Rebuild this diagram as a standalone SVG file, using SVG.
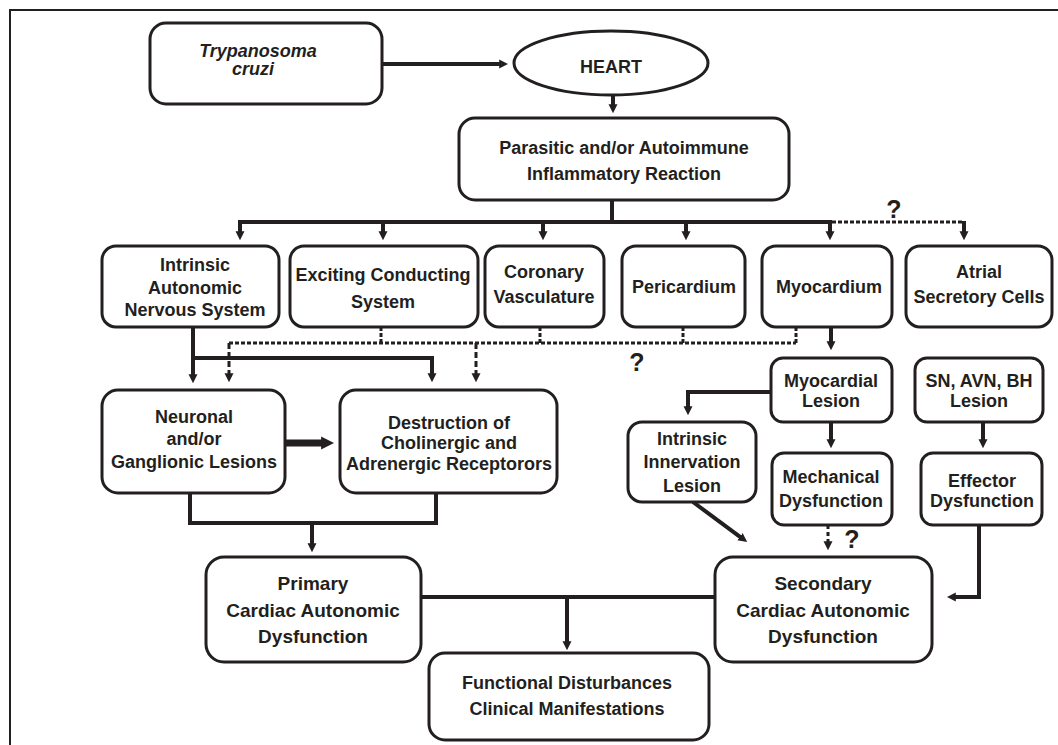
<svg xmlns="http://www.w3.org/2000/svg" width="1058" height="745" viewBox="0 0 1058 745">
<defs>
<marker id="ah" viewBox="0 0 10 10" refX="2" refY="5" markerWidth="9" markerHeight="13" markerUnits="userSpaceOnUse" orient="auto"><path d="M0,0 L10,5 L0,10 z" fill="#231f20"/></marker>
<marker id="ahb" viewBox="0 0 10 10" refX="3" refY="5" markerWidth="13" markerHeight="17" markerUnits="userSpaceOnUse" orient="auto"><path d="M0,0 L10,5 L0,10 z" fill="#231f20"/></marker>
</defs>
<style>
.box{fill:#fff;stroke:#231f20;stroke-width:3}
.t{font-family:"Liberation Sans",Arial,sans-serif;font-weight:bold;font-size:18px;fill:#231f20;text-anchor:middle}
.big{font-size:19px}
.q{font-size:25px}
.c{fill:none;stroke:#231f20;stroke-width:4}
.a{marker-end:url(#ah)}
.d{fill:none;stroke:#231f20;stroke-width:3;stroke-dasharray:4 2}
.dd{fill:none;stroke:#231f20;stroke-width:3;stroke-dasharray:6 3}
</style>
<rect x="10" y="10" width="1070" height="760" fill="#fff" stroke="#231f20" stroke-width="2"/>

<g id="connectors">
<path class="c a" d="M382,64 H501"/>
<path class="c a" d="M613,95 V106"/>
<path class="c" d="M612,200 V222 M238,222 H832"/>
<path class="c a" d="M240,220 V233"/>
<path class="c a" d="M383,220 V233"/>
<path class="c a" d="M543,220 V233"/>
<path class="c a" d="M686,220 V233"/>
<path class="c a" d="M830,220 V233"/>
<path class="d" d="M832,222 H964"/>
<path class="c a" d="M964,221 V233"/>
<path class="c a" d="M193,327 V376"/>
<path class="c a" d="M193,358 H432 V375"/>
<path class="d" d="M229,343 H796 M381,327 V343 M540,327 V343 M683,327 V343 M796,327 V343"/>
<path class="dd a" d="M229,343 V375"/>
<path class="dd a" d="M476,343 V375"/>
<path fill="none" stroke="#231f20" stroke-width="7" marker-end="url(#ahb)" d="M285,443 H325"/>
<path class="c" d="M190,493 V523 H436 V493"/>
<path class="c a" d="M312,523 V545"/>
<path class="c" d="M421,597 H715"/>
<path class="c a" d="M567,597 V643"/>
<path class="c a" d="M831,327 V343"/>
<path class="c a" d="M771,392 H688 V408"/>
<path class="c a" d="M831,422 V441"/>
<path class="c a" d="M983,422 V441"/>
<path class="dd a" d="M828,525 V543" style="stroke-dasharray:4 3"/>
<path class="c a" d="M693,502 L741.4,537.8"/>
<path class="c a" d="M979,525 V597 H954"/>
<text class="t q" x="894" y="218">?</text>
<text class="t q" x="637" y="371">?</text>
<text class="t q" x="852" y="548">?</text>
</g>

<g id="trypanosoma">
<rect class="box" x="150" y="23" width="232" height="81" rx="16"/>
<text class="t" x="258" y="57" font-style="italic">Trypanosoma</text>
<text class="t" x="253" y="75" font-style="italic">cruzi</text>
</g>
<g id="heart">
<ellipse class="box" cx="611" cy="63" rx="97" ry="32"/>
<text class="t" x="611" y="73">HEART</text>
</g>
<g id="reaction">
<rect class="box" x="459" y="118" width="330" height="82" rx="16"/>
<text class="t" x="624" y="154" font-size="20">Parasitic and/or Autoimmune</text>
<text class="t" x="624" y="180" font-size="20">Inflammatory Reaction</text>
</g>
<g id="intrinsic-ans">
<rect class="box" x="102" y="246" width="177" height="81" rx="14"/>
<text class="t" x="195" y="271">Intrinsic</text>
<text class="t" x="195" y="294">Autonomic</text>
<text class="t" x="195" y="316">Nervous System</text>
</g>
<g id="exciting">
<rect class="box" x="290" y="246" width="188" height="81" rx="14"/>
<text class="t" x="383" y="281">Exciting Conducting</text>
<text class="t" x="383" y="308">System</text>
</g>
<g id="coronary">
<rect class="box" x="485" y="246" width="119" height="81" rx="14"/>
<text class="t" x="544" y="278">Coronary</text>
<text class="t" x="544" y="303">Vasculature</text>
</g>
<g id="pericardium">
<rect class="box" x="622" y="246" width="123" height="81" rx="14"/>
<text class="t" x="684" y="293">Pericardium</text>
</g>
<g id="myocardium">
<rect class="box" x="762" y="246" width="130" height="81" rx="14"/>
<text class="t" x="829" y="293">Myocardium</text>
</g>
<g id="atrial">
<rect class="box" x="906" y="246" width="146" height="81" rx="14"/>
<text class="t" x="979" y="278">Atrial</text>
<text class="t" x="979" y="303">Secretory Cells</text>
</g>
<g id="neuronal">
<rect class="box" x="102" y="390" width="183" height="103" rx="16"/>
<text class="t" x="194" y="423">Neuronal</text>
<text class="t" x="194" y="445">and/or</text>
<text class="t" x="194" y="468">Ganglionic Lesions</text>
</g>
<g id="destruction">
<rect class="box" x="340" y="390" width="217" height="103" rx="16"/>
<text class="t" x="449" y="429">Destruction of</text>
<text class="t" x="449" y="449">Cholinergic and</text>
<text class="t" x="449" y="470">Adrenergic Receptorors</text>
</g>
<g id="myocardial-lesion">
<rect class="box" x="771" y="358" width="121" height="64" rx="12"/>
<text class="t" x="831" y="387">Myocardial</text>
<text class="t" x="831" y="407">Lesion</text>
</g>
<g id="sn-lesion">
<rect class="box" x="915" y="358" width="128" height="64" rx="12"/>
<text class="t" x="979" y="387">SN, AVN, BH</text>
<text class="t" x="979" y="407">Lesion</text>
</g>
<g id="innervation">
<rect class="box" x="628" y="422" width="128" height="80" rx="14"/>
<text class="t" x="692" y="445">Intrinsic</text>
<text class="t" x="692" y="468">Innervation</text>
<text class="t" x="692" y="492">Lesion</text>
</g>
<g id="mechanical">
<rect class="box" x="772" y="453" width="120" height="72" rx="12"/>
<text class="t" x="831" y="483">Mechanical</text>
<text class="t" x="831" y="507">Dysfunction</text>
</g>
<g id="effector">
<rect class="box" x="921" y="453" width="121" height="72" rx="12"/>
<text class="t" x="982" y="487">Effector</text>
<text class="t" x="982" y="507">Dysfunction</text>
</g>
<g id="primary">
<rect class="box" x="206" y="557" width="215" height="105" rx="18"/>
<text class="t big" x="313" y="590">Primary</text>
<text class="t big" x="313" y="617">Cardiac Autonomic</text>
<text class="t big" x="313" y="643">Dysfunction</text>
</g>
<g id="secondary">
<rect class="box" x="715" y="557" width="217" height="105" rx="18"/>
<text class="t big" x="823" y="590">Secondary</text>
<text class="t big" x="823" y="617">Cardiac Autonomic</text>
<text class="t big" x="823" y="643">Dysfunction</text>
</g>
<g id="functional">
<rect class="box" x="429" y="653" width="280" height="87" rx="16"/>
<text class="t" x="567" y="689" font-size="18.5">Functional Disturbances</text>
<text class="t" x="567" y="715" font-size="18.5">Clinical Manifestations</text>
</g>
</svg>
